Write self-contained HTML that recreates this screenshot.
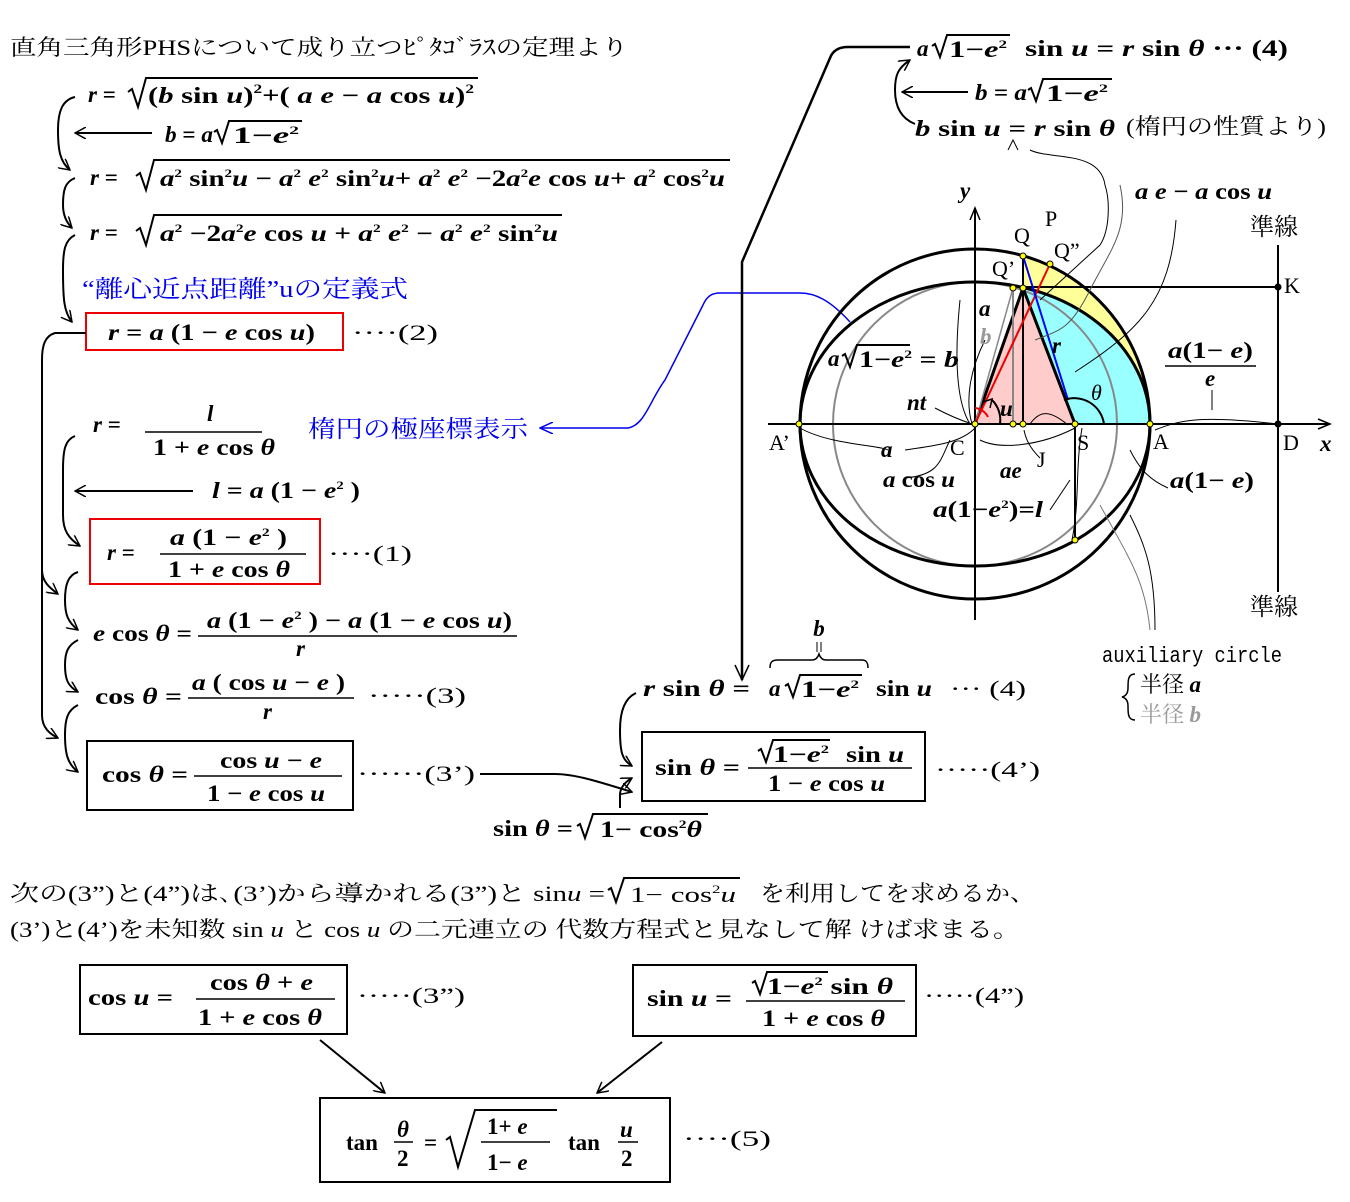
<!DOCTYPE html>
<html><head><meta charset="utf-8">
<style>
html,body{margin:0;padding:0;background:#fff;}
svg{display:block;}
text{font-family:"Liberation Serif","Noto Serif CJK JP",serif;fill:#000;}
.m{font-size:23px;font-weight:bold;}
.i{font-style:italic;}
.j{font-family:"Liberation Serif","Noto Serif CJK JP",serif;font-size:22px;}
</style></head><body>
<svg width="1350" height="1202" viewBox="0 0 1350 1202" xmlns="http://www.w3.org/2000/svg">
<defs>
<marker id="ah" viewBox="0 0 12 12" refX="11" refY="6" markerWidth="12" markerHeight="12" markerUnits="userSpaceOnUse" orient="auto"><path d="M0,0 L11,6 L0,12" fill="none" stroke="#000" stroke-width="1.5"/></marker>
<marker id="ahb" viewBox="0 0 14 12" refX="13" refY="6" markerWidth="14" markerHeight="12" markerUnits="userSpaceOnUse" orient="auto"><path d="M0,0 L13,6 L0,12" fill="none" stroke="#0000ee" stroke-width="1.5"/></marker>
</defs>

<!-- ===== Title ===== -->
<text x="10" y="55" class="j" textLength="618" lengthAdjust="spacingAndGlyphs">直角三角形PHSについて成り立つﾋﾟﾀｺﾞﾗｽの定理より</text>

<!-- line 1 -->
<text x="88" y="102" class="m"><tspan class="i">r</tspan> =</text>
<path d="M128,92 l4,-3 l6,18 l8,-29 H478" fill="none" stroke="#000" stroke-width="2"/>
<text x="148" y="103" class="m" textLength="326" lengthAdjust="spacingAndGlyphs">(<tspan class="i">b</tspan> sin <tspan class="i">u</tspan>)<tspan font-size="13" dy="-10">2</tspan><tspan dy="10">+( </tspan><tspan class="i">a e</tspan> − <tspan class="i">a</tspan> cos <tspan class="i">u</tspan>)<tspan font-size="13" dy="-10">2</tspan></text>
<!-- b = a sqrt -->
<line x1="152" y1="133" x2="75" y2="133" stroke="#000" stroke-width="2" marker-end="url(#ah)"/>
<text x="165" y="142" class="m" textLength="48" lengthAdjust="spacingAndGlyphs"><tspan class="i">b</tspan> = <tspan class="i">a</tspan></text>
<path d="M214,132 l3,-2 l5,13 l7,-22 H302" fill="none" stroke="#000" stroke-width="2"/>
<text x="233" y="143" class="m" textLength="66" lengthAdjust="spacingAndGlyphs">1−<tspan class="i">e</tspan><tspan font-size="12" dy="-9">2</tspan></text>
<!-- line 3 -->
<text x="90" y="185" class="m"><tspan class="i">r</tspan> =</text>
<path d="M136,176 l4,-3 l6,17 l8,-30 H730" fill="none" stroke="#000" stroke-width="2"/>
<text x="160" y="186" class="m" textLength="565" lengthAdjust="spacingAndGlyphs"><tspan class="i">a</tspan><tspan font-size="12" dy="-9">2</tspan><tspan dy="9"> sin</tspan><tspan font-size="12" dy="-9">2</tspan><tspan dy="9" class="i">u</tspan> − <tspan class="i">a</tspan><tspan font-size="12" dy="-9">2</tspan><tspan dy="9" class="i"> e</tspan><tspan font-size="12" dy="-9">2</tspan><tspan dy="9"> sin</tspan><tspan font-size="12" dy="-9">2</tspan><tspan dy="9" class="i">u</tspan>+ <tspan class="i">a</tspan><tspan font-size="12" dy="-9">2</tspan><tspan dy="9" class="i"> e</tspan><tspan font-size="12" dy="-9">2</tspan><tspan dy="9"> −2</tspan><tspan class="i">a</tspan><tspan font-size="12" dy="-9">2</tspan><tspan dy="9" class="i">e</tspan> cos <tspan class="i">u</tspan>+ <tspan class="i">a</tspan><tspan font-size="12" dy="-9">2</tspan><tspan dy="9"> cos</tspan><tspan font-size="12" dy="-9">2</tspan><tspan dy="9" class="i">u</tspan></text>
<!-- line 4 -->
<text x="90" y="240" class="m"><tspan class="i">r</tspan> =</text>
<path d="M136,231 l4,-3 l6,17 l8,-30 H562" fill="none" stroke="#000" stroke-width="2"/>
<text x="160" y="241" class="m" textLength="398" lengthAdjust="spacingAndGlyphs"><tspan class="i">a</tspan><tspan font-size="12" dy="-9">2</tspan><tspan dy="9"> −2</tspan><tspan class="i">a</tspan><tspan font-size="12" dy="-9">2</tspan><tspan dy="9" class="i">e</tspan> cos <tspan class="i">u</tspan> + <tspan class="i">a</tspan><tspan font-size="12" dy="-9">2</tspan><tspan dy="9" class="i"> e</tspan><tspan font-size="12" dy="-9">2</tspan><tspan dy="9"> − </tspan><tspan class="i">a</tspan><tspan font-size="12" dy="-9">2</tspan><tspan dy="9" class="i"> e</tspan><tspan font-size="12" dy="-9">2</tspan><tspan dy="9"> sin</tspan><tspan font-size="12" dy="-9">2</tspan><tspan dy="9" class="i">u</tspan></text>
<!-- blue -->
<text x="82" y="297" font-size="24" style="fill:#0000ee" textLength="326" lengthAdjust="spacingAndGlyphs">“離心近点距離”uの定義式</text>
<!-- box 2 -->
<rect x="86" y="313" width="257" height="37" fill="none" stroke="#e00" stroke-width="2"/>
<text x="108" y="340" class="m" textLength="207" lengthAdjust="spacingAndGlyphs"><tspan class="i">r</tspan> = <tspan class="i">a</tspan> (1 − <tspan class="i">e</tspan> cos <tspan class="i">u</tspan>)</text>
<text x="352" y="340" font-size="22" textLength="86" lengthAdjust="spacingAndGlyphs">····(2)</text>

<!-- left curves (top block) -->
<path d="M75,97 C62,100 58,112 58,130 C58,150 60,162 70,170" fill="none" stroke="#000" stroke-width="2" marker-end="url(#ah)"/>
<path d="M75,178 C65,182 63,190 63,205 C63,215 66,222 72,228" fill="none" stroke="#000" stroke-width="2" marker-end="url(#ah)"/>
<path d="M75,235 C65,240 63,250 63,270 C63,300 64,312 72,322" fill="none" stroke="#000" stroke-width="2" marker-end="url(#ah)"/>
<!-- big left line -->
<path d="M86,333 H55 C45,336 42,345 42,360 V570 C42,582 50,588 58,594" fill="none" stroke="#000" stroke-width="2" marker-end="url(#ah)"/>
<path d="M42,570 V715 C42,728 50,734 58,738" fill="none" stroke="#000" stroke-width="2" marker-end="url(#ah)"/>

<!-- polar -->
<text x="93" y="432" class="m"><tspan class="i">r</tspan>  =</text>
<text x="207" y="421" class="m i">l</text>
<line x1="145" y1="432" x2="262" y2="432" stroke="#000" stroke-width="1.5"/>
<text x="153" y="455" class="m" textLength="122" lengthAdjust="spacingAndGlyphs">1 + <tspan class="i">e</tspan> cos <tspan class="i">θ</tspan></text>
<text x="308" y="437" font-size="24" style="fill:#0000ee" textLength="220" lengthAdjust="spacingAndGlyphs">楕円の極座標表示</text>
<path d="M628,428 H540" stroke="#0000ee" stroke-width="1.5" fill="none" marker-end="url(#ahb)"/>
<path d="M628,428 C645,425 650,400 665,380 L703,305 C707,296 712,293 720,293 H800 C815,293 830,300 850,322" stroke="#0000ee" stroke-width="1.5" fill="none"/>
<line x1="193" y1="491" x2="75" y2="491" stroke="#000" stroke-width="2" marker-end="url(#ah)"/>
<text x="212" y="498" class="m" textLength="148" lengthAdjust="spacingAndGlyphs"><tspan class="i">l</tspan> = <tspan class="i">a</tspan> (1 − <tspan class="i">e</tspan><tspan font-size="12" dy="-9">2</tspan><tspan dy="9"> )</tspan></text>
<path d="M75,436 C65,440 63,450 63,470 V515 C63,530 68,538 80,546" fill="none" stroke="#000" stroke-width="2" marker-end="url(#ah)"/>

<rect x="90" y="519" width="230" height="65" fill="none" stroke="#e00" stroke-width="2"/>
<text x="107" y="560" class="m"><tspan class="i">r</tspan>  =</text>
<text x="170" y="545" class="m" textLength="117" lengthAdjust="spacingAndGlyphs"><tspan class="i">a</tspan> (1 − <tspan class="i">e</tspan><tspan font-size="12" dy="-9">2</tspan><tspan dy="9"> )</tspan></text>
<line x1="160" y1="554" x2="306" y2="554" stroke="#000" stroke-width="1.5"/>
<text x="168" y="577" class="m" textLength="122" lengthAdjust="spacingAndGlyphs">1 + <tspan class="i">e</tspan> cos <tspan class="i">θ</tspan></text>
<text x="328" y="561" font-size="22" textLength="84" lengthAdjust="spacingAndGlyphs">····(1)</text>

<path d="M78,572 C68,575 65,585 65,600 C65,615 68,622 78,630" fill="none" stroke="#000" stroke-width="2" marker-end="url(#ah)"/>
<text x="93" y="641" class="m" textLength="99" lengthAdjust="spacingAndGlyphs"><tspan class="i">e</tspan> cos <tspan class="i">θ</tspan> =</text>
<text x="207" y="628" class="m" textLength="305" lengthAdjust="spacingAndGlyphs"><tspan class="i">a</tspan> (1 − <tspan class="i">e</tspan><tspan font-size="12" dy="-9">2</tspan><tspan dy="9"> ) − </tspan><tspan class="i">a</tspan> (1 − <tspan class="i">e</tspan> cos <tspan class="i">u</tspan>)</text>
<line x1="198" y1="636" x2="517" y2="636" stroke="#000" stroke-width="1.5"/>
<text x="296" y="656" class="m i">r</text>
<path d="M78,640 C68,645 65,652 65,665 C65,680 68,686 78,692" fill="none" stroke="#000" stroke-width="2" marker-end="url(#ah)"/>
<text x="95" y="704" class="m" textLength="87" lengthAdjust="spacingAndGlyphs">cos <tspan class="i">θ</tspan>  =</text>
<text x="192" y="690" class="m" textLength="153" lengthAdjust="spacingAndGlyphs"><tspan class="i">a</tspan> ( cos <tspan class="i">u</tspan> − <tspan class="i">e</tspan> )</text>
<line x1="188" y1="698" x2="354" y2="698" stroke="#000" stroke-width="1.5"/>
<text x="263" y="719" class="m i">r</text>
<text x="368" y="703" font-size="22" textLength="98" lengthAdjust="spacingAndGlyphs">·····(3)</text>
<path d="M78,705 C68,710 65,718 65,735 C65,755 68,764 78,772" fill="none" stroke="#000" stroke-width="2" marker-end="url(#ah)"/>

<rect x="87" y="741" width="266" height="69" fill="none" stroke="#000" stroke-width="2"/>
<text x="102" y="782" class="m" textLength="86" lengthAdjust="spacingAndGlyphs">cos <tspan class="i">θ</tspan>  =</text>
<text x="220" y="768" class="m" textLength="102" lengthAdjust="spacingAndGlyphs">cos <tspan class="i">u</tspan> − <tspan class="i">e</tspan></text>
<line x1="194" y1="776" x2="342" y2="776" stroke="#000" stroke-width="1.5"/>
<text x="207" y="801" class="m" textLength="118" lengthAdjust="spacingAndGlyphs">1 − <tspan class="i">e</tspan> cos <tspan class="i">u</tspan></text>
<text x="357" y="781" font-size="22" textLength="118" lengthAdjust="spacingAndGlyphs">······(3’)</text>
<path d="M480,774 H555 C575,774 600,782 632,792" fill="none" stroke="#000" stroke-width="2" marker-end="url(#ah)"/>

<!-- middle (4) -->
<path d="M742,680 V262 L830,58 C833,50 840,47 848,47 H910" fill="none" stroke="#000" stroke-width="2.5"/>
<path d="M735,665 L742,680 L749,665" fill="none" stroke="#000" stroke-width="1.5"/>
<text x="643" y="696" class="m" textLength="107" lengthAdjust="spacingAndGlyphs"><tspan class="i">r</tspan>  sin <tspan class="i">θ</tspan> =</text>
<text x="769" y="696" class="m i">a</text>
<path d="M785,686 l3,-2 l5,13 l7,-22 H862" fill="none" stroke="#000" stroke-width="2"/>
<text x="801" y="697" class="m" textLength="58" lengthAdjust="spacingAndGlyphs">1−<tspan class="i">e</tspan><tspan font-size="12" dy="-9">2</tspan></text>
<text x="876" y="696" class="m" textLength="56" lengthAdjust="spacingAndGlyphs">sin <tspan class="i">u</tspan></text>
<text x="950" y="696" font-size="22" textLength="76" lengthAdjust="spacingAndGlyphs">··· (4)</text>
<path d="M770,668 C770,662 772,660 778,660 H812 C816,660 818,657 819,654 C820,657 822,660 826,660 H862 C866,660 868,662 868,668" fill="none" stroke="#000" stroke-width="1.5"/>
<text x="819" y="636" class="m i" text-anchor="middle">b</text>
<path d="M817,642 V652 M821,642 V652" stroke="#000" stroke-width="1"/>
<path d="M636,693 C625,698 620,710 620,730 C620,752 622,760 632,766" fill="none" stroke="#000" stroke-width="2" marker-end="url(#ah)"/>
<path d="M620,808 V795 C620,788 625,782 632,778" fill="none" stroke="#000" stroke-width="2" marker-end="url(#ah)"/>

<rect x="642" y="732" width="283" height="69" fill="none" stroke="#000" stroke-width="2"/>
<text x="655" y="775" class="m" textLength="85" lengthAdjust="spacingAndGlyphs">sin <tspan class="i">θ</tspan> =</text>
<path d="M758,751 l3,-2 l5,13 l7,-22 H830" fill="none" stroke="#000" stroke-width="2"/>
<text x="773" y="762" class="m" textLength="56" lengthAdjust="spacingAndGlyphs">1−<tspan class="i">e</tspan><tspan font-size="12" dy="-9">2</tspan></text>
<text x="846" y="762" class="m" textLength="58" lengthAdjust="spacingAndGlyphs">sin <tspan class="i">u</tspan></text>
<line x1="748" y1="768" x2="912" y2="768" stroke="#000" stroke-width="1.5"/>
<text x="768" y="791" class="m" textLength="117" lengthAdjust="spacingAndGlyphs">1 − <tspan class="i">e</tspan> cos <tspan class="i">u</tspan></text>
<text x="935" y="777" font-size="22" textLength="105" lengthAdjust="spacingAndGlyphs">·····(4’)</text>

<text x="493" y="836" class="m" textLength="80" lengthAdjust="spacingAndGlyphs">sin <tspan class="i">θ</tspan> =</text>
<path d="M577,826 l3,-2 l5,14 l8,-24 H708" fill="none" stroke="#000" stroke-width="2"/>
<text x="600" y="837" class="m" textLength="102" lengthAdjust="spacingAndGlyphs">1− cos<tspan font-size="12" dy="-9">2</tspan><tspan dy="9" class="i">θ</tspan></text>

<!-- top right -->
<text x="917" y="56" class="m i">a</text>
<path d="M932,46 l3,-2 l5,13 l7,-22 H1010" fill="none" stroke="#000" stroke-width="2"/>
<text x="949" y="57" class="m" textLength="58" lengthAdjust="spacingAndGlyphs">1−<tspan class="i">e</tspan><tspan font-size="12" dy="-9">2</tspan></text>
<text x="1025" y="56" class="m" textLength="263" lengthAdjust="spacingAndGlyphs">sin <tspan class="i">u</tspan> =  <tspan class="i">r</tspan>  sin <tspan class="i">θ</tspan> ··· (4)</text>
<line x1="968" y1="92" x2="902" y2="92" stroke="#000" stroke-width="2" marker-end="url(#ah)"/>
<text x="975" y="100" class="m" textLength="52" lengthAdjust="spacingAndGlyphs"><tspan class="i">b</tspan> = <tspan class="i">a</tspan></text>
<path d="M1028,90 l3,-2 l5,13 l7,-22 H1112" fill="none" stroke="#000" stroke-width="2"/>
<text x="1046" y="101" class="m" textLength="62" lengthAdjust="spacingAndGlyphs">1−<tspan class="i">e</tspan><tspan font-size="12" dy="-9">2</tspan></text>
<path d="M915,124 C900,118 895,105 895,90 C895,75 898,68 910,60" fill="none" stroke="#000" stroke-width="2" marker-end="url(#ah)"/>
<text x="915" y="136" class="m" textLength="200" lengthAdjust="spacingAndGlyphs"><tspan class="i">b</tspan> sin <tspan class="i">u</tspan> =  <tspan class="i">r</tspan>  sin <tspan class="i">θ</tspan></text>
<text x="1126" y="134" font-size="22" textLength="200" lengthAdjust="spacingAndGlyphs">(楕円の性質より)</text>

<!-- ===== Diagram ===== -->
<path d="M1023,256 A175,175 0 0 1 1150,424 A175,142 0 0 0 1023,288 Z" fill="#ffff99"/>
<path d="M1075,424 L1023,288 A175,142 0 0 1 1150,424 Z" fill="#99ffff"/>
<path d="M975,424 L1023,288 L1075,424 Z" fill="#ffcccc"/>
<circle cx="975" cy="424" r="142" fill="none" stroke="#888" stroke-width="2"/>
<circle cx="975" cy="424" r="175" fill="none" stroke="#000" stroke-width="3"/>
<ellipse cx="975" cy="424" rx="175" ry="142" fill="none" stroke="#000" stroke-width="3"/>
<line x1="768" y1="424" x2="1330" y2="424" stroke="#000" stroke-width="2"/>
<path d="M1318,419 L1330,424 L1318,429" fill="none" stroke="#000" stroke-width="1.5"/>
<line x1="975" y1="620" x2="975" y2="208" stroke="#000" stroke-width="2"/>
<path d="M970,220 L975,208 L980,220" fill="none" stroke="#000" stroke-width="1.5"/>
<line x1="1278" y1="245" x2="1278" y2="592" stroke="#000" stroke-width="2"/>
<line x1="1023" y1="287" x2="1278" y2="287" stroke="#000" stroke-width="2"/>
<line x1="1075" y1="424" x2="1075" y2="540" stroke="#000" stroke-width="2"/>
<line x1="975" y1="424" x2="1023" y2="288" stroke="#000" stroke-width="3"/>
<line x1="1023" y1="288" x2="1075" y2="424" stroke="#000" stroke-width="3"/>
<line x1="1023" y1="256" x2="1023" y2="424" stroke="#000" stroke-width="2"/>
<line x1="1013" y1="288" x2="1013" y2="424" stroke="#888" stroke-width="2"/>
<line x1="975" y1="424" x2="1013" y2="288" stroke="#888" stroke-width="1.5"/>
<line x1="975" y1="424" x2="1050" y2="264" stroke="#e00" stroke-width="2"/>
<line x1="1023" y1="256" x2="1068" y2="400" stroke="#00f" stroke-width="2"/>
<path d="M975,424 m0,-16 a16,16 0 0 1 13,9" fill="none" stroke="#e00" stroke-width="2"/>
<path d="M992,400 a28,28 0 0 1 8,24" fill="none" stroke="#000" stroke-width="2"/>
<path d="M983,402 l9,-3 l-2,9" fill="none" stroke="#000" stroke-width="1.5"/>
<path d="M1064,400 a30,30 0 0 1 40,24" fill="none" stroke="#000" stroke-width="2"/>
<g fill="#ff0" stroke="#000" stroke-width="1">
<circle cx="799" cy="424" r="3"/><circle cx="975" cy="424" r="3"/><circle cx="1013" cy="424" r="3"/><circle cx="1023" cy="424" r="3"/><circle cx="1075" cy="424" r="3"/><circle cx="1150" cy="424" r="3"/><circle cx="1023" cy="256" r="3"/><circle cx="1013" cy="288" r="3"/><circle cx="1023" cy="288" r="3"/><circle cx="1050" cy="264" r="3"/><circle cx="1075" cy="540" r="3"/>
</g>
<circle cx="1278" cy="424" r="3.5" fill="#000"/><circle cx="1278" cy="287" r="3.5" fill="#000"/>
<g fill="none" stroke="#000" stroke-width="1">
<path d="M1068,425 C1050,410 1040,410 1030,424"/>
<path d="M1176,220 C1170,300 1140,330 1075,372"/>
<path d="M1120,185 C1130,230 1110,250 1090,290 C1070,330 1060,330 1035,340" stroke="#555"/>
<path d="M1030,150 C1050,160 1100,150 1105,185 C1110,200 1110,230 1100,245 L1040,300"/>
<path d="M1155,430 C1180,420 1200,415 1278,424"/>
<path d="M1212,390 V410"/>
<path d="M800,428 C830,445 880,445 888,450"/>
<path d="M905,450 C930,446 960,444 975,428"/>
<path d="M905,478 C940,475 940,460 950,440"/>
<path d="M980,440 C1000,450 1040,446 1075,428"/>
<path d="M935,408 C950,416 960,420 972,424"/>
<path d="M1082,428 C1075,470 1080,500 1072,540"/>
<path d="M1050,510 L1070,480"/>
<path d="M1168,488 C1150,480 1140,470 1130,450"/>
<path d="M1155,630 C1155,570 1145,545 1130,515"/>
<path d="M1150,630 C1145,580 1130,560 1100,505" stroke="#777"/>
<path d="M1040,458 C1030,448 1026,440 1024,430"/>
<path d="M985,340 C970,370 965,400 972,424"/>
<path d="M960,300 C955,350 955,400 970,424"/>
</g>
<path d="M1008,150 L1013,140 L1018,150" fill="none" stroke="#000" stroke-width="1"/>
<text x="960" y="198" class="m i">y</text>
<text x="1014" y="243" font-size="22">Q</text>
<text x="1045" y="226" font-size="22">P</text>
<text x="1054" y="258" font-size="22">Q”</text>
<text x="992" y="276" font-size="22">Q’</text>
<text x="1135" y="199" class="m" textLength="137" lengthAdjust="spacingAndGlyphs"><tspan class="i">a e</tspan> − <tspan class="i">a</tspan> cos <tspan class="i">u</tspan></text>
<text x="1250" y="235" font-size="24">準線</text>
<text x="1250" y="615" font-size="24">準線</text>
<text x="1284" y="293" font-size="22">K</text>
<text x="1283" y="450" font-size="22">D</text>
<text x="1320" y="451" class="m i">x</text>
<text x="1153" y="449" font-size="22">A</text>
<text x="769" y="450" font-size="22">A’</text>
<text x="950" y="455" font-size="22">C</text>
<text x="1077" y="450" font-size="22">S</text>
<text x="1037" y="467" font-size="22">J</text>
<text x="979" y="316" class="m i">a</text>
<text x="980" y="344" class="m i" style="fill:#999">b</text>
<text x="828" y="366" class="m i">a</text>
<path d="M842,356 l3,-2 l5,13 l7,-22 H910" fill="none" stroke="#000" stroke-width="2"/>
<text x="859" y="367" class="m" textLength="100" lengthAdjust="spacingAndGlyphs">1−<tspan class="i">e</tspan><tspan font-size="12" dy="-9">2</tspan><tspan dy="9"> = </tspan><tspan class="i">b</tspan></text>
<text x="907" y="410" class="m i">nt</text>
<text x="1000" y="416" class="m i">u</text>
<text x="1052" y="353" class="m i">r</text>
<text x="1091" y="400" font-size="22" class="i">θ</text>
<text x="1168" y="358" class="m" textLength="85" lengthAdjust="spacingAndGlyphs"><tspan class="i">a</tspan>(1− <tspan class="i">e</tspan>)</text>
<line x1="1165" y1="366" x2="1256" y2="366" stroke="#000" stroke-width="1.5"/>
<text x="1205" y="386" class="m i">e</text>
<text x="881" y="457" class="m i">a</text>
<text x="883" y="487" class="m" textLength="72" lengthAdjust="spacingAndGlyphs"><tspan class="i">a</tspan> cos <tspan class="i">u</tspan></text>
<text x="1000" y="478" class="m i">ae</text>
<text x="933" y="517" class="m" textLength="110" lengthAdjust="spacingAndGlyphs"><tspan class="i">a</tspan>(1−<tspan class="i">e</tspan><tspan font-size="12" dy="-9">2</tspan><tspan dy="9">)=</tspan><tspan class="i">l</tspan></text>
<text x="1170" y="488" class="m" textLength="84" lengthAdjust="spacingAndGlyphs"><tspan class="i">a</tspan>(1− <tspan class="i">e</tspan>)</text>
<text x="1102" y="662" font-size="22" style="font-family:'Liberation Mono',monospace" textLength="180" lengthAdjust="spacingAndGlyphs">auxiliary circle</text>
<path d="M1135,674 C1128,674 1128,680 1128,688 C1128,693 1126,696 1122,697 C1126,698 1128,701 1128,706 C1128,714 1128,720 1135,720" fill="none" stroke="#000" stroke-width="1.5"/>
<text x="1140" y="692" font-size="22">半径 <tspan class="m i">a</tspan></text>
<text x="1140" y="722" font-size="22" style="fill:#999">半径 <tspan class="m i" style="fill:#999">b</tspan></text>

<!-- bottom text -->
<text x="10" y="901" class="j" textLength="595" lengthAdjust="spacingAndGlyphs">次の(3”)と(4”)は､(3’)から導かれる(3”)と sin<tspan class="i">u</tspan> =</text>
<path d="M608,890 l3,-2 l5,14 l8,-24 H740" fill="none" stroke="#000" stroke-width="2"/>
<text x="630" y="902" class="j" textLength="106" lengthAdjust="spacingAndGlyphs">1− cos<tspan font-size="12" dy="-9">2</tspan><tspan dy="9" class="i">u</tspan></text>
<text x="760" y="901" class="j" textLength="275" lengthAdjust="spacingAndGlyphs">を利用してを求めるか、</text>
<text x="10" y="937" class="j" textLength="1010" lengthAdjust="spacingAndGlyphs">(3’)と(4’)を未知数 sin <tspan class="i">u</tspan> と cos <tspan class="i">u</tspan> の二元連立の 代数方程式と見なして解 けば求まる。</text>

<rect x="80" y="965" width="267" height="69" fill="none" stroke="#000" stroke-width="2"/>
<text x="88" y="1005" class="m" textLength="85" lengthAdjust="spacingAndGlyphs">cos <tspan class="i">u</tspan>  =</text>
<text x="210" y="990" class="m" textLength="103" lengthAdjust="spacingAndGlyphs">cos <tspan class="i">θ</tspan> + <tspan class="i">e</tspan></text>
<line x1="196" y1="999" x2="335" y2="999" stroke="#000" stroke-width="1.5"/>
<text x="198" y="1025" class="m" textLength="124" lengthAdjust="spacingAndGlyphs">1 + <tspan class="i">e</tspan> cos <tspan class="i">θ</tspan></text>
<text x="357" y="1003" font-size="22" textLength="108" lengthAdjust="spacingAndGlyphs">·····(3”)</text>

<rect x="633" y="965" width="283" height="71" fill="none" stroke="#000" stroke-width="2"/>
<text x="647" y="1006" class="m" textLength="85" lengthAdjust="spacingAndGlyphs">sin <tspan class="i">u</tspan>  =</text>
<path d="M752,983 l3,-2 l5,13 l7,-22 H828" fill="none" stroke="#000" stroke-width="2"/>
<text x="767" y="994" class="m" textLength="126" lengthAdjust="spacingAndGlyphs">1−<tspan class="i">e</tspan><tspan font-size="12" dy="-9">2</tspan><tspan dy="9"> sin </tspan><tspan class="i">θ</tspan></text>
<line x1="746" y1="1001" x2="905" y2="1001" stroke="#000" stroke-width="1.5"/>
<text x="762" y="1026" class="m" textLength="123" lengthAdjust="spacingAndGlyphs">1 + <tspan class="i">e</tspan> cos <tspan class="i">θ</tspan></text>
<text x="924" y="1003" font-size="22" textLength="100" lengthAdjust="spacingAndGlyphs">·····(4”)</text>

<line x1="320" y1="1040" x2="385" y2="1093" stroke="#000" stroke-width="2" marker-end="url(#ah)"/>
<line x1="662" y1="1042" x2="597" y2="1093" stroke="#000" stroke-width="2" marker-end="url(#ah)"/>

<rect x="320" y="1098" width="350" height="84" fill="none" stroke="#000" stroke-width="2"/>
<text x="346" y="1150" class="m">tan</text>
<text x="397" y="1137" class="m i">θ</text>
<line x1="394" y1="1142" x2="413" y2="1142" stroke="#000" stroke-width="1.5"/>
<text x="397" y="1166" class="m">2</text>
<text x="424" y="1150" class="m">=</text>
<path d="M446,1140 l4,-3 l8,30 l17,-57 H557" fill="none" stroke="#000" stroke-width="2"/>
<text x="487" y="1134" class="m">1+ <tspan class="i">e</tspan></text>
<line x1="481" y1="1142" x2="550" y2="1142" stroke="#000" stroke-width="1.5"/>
<text x="487" y="1170" class="m">1− <tspan class="i">e</tspan></text>
<text x="568" y="1150" class="m">tan</text>
<text x="620" y="1137" class="m i">u</text>
<line x1="618" y1="1142" x2="638" y2="1142" stroke="#000" stroke-width="1.5"/>
<text x="621" y="1166" class="m">2</text>
<text x="683" y="1146" font-size="22" textLength="88" lengthAdjust="spacingAndGlyphs">····(5)</text>
</svg>
</body></html>
